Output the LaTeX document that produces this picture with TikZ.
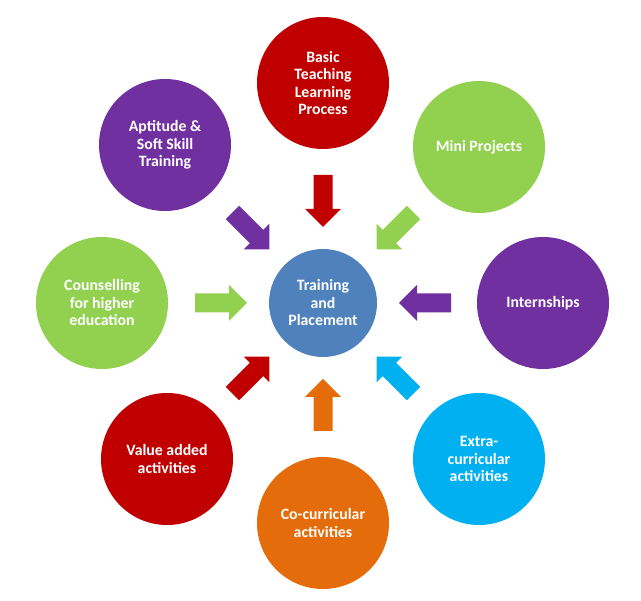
\documentclass[tikz,border=0pt]{standalone}
\usepackage{fontspec}
\setmainfont{Carlito}
\usetikzlibrary{calc}
\definecolor{cRed}{HTML}{C00000}
\definecolor{cPurple}{HTML}{7030A0}
\definecolor{cGreen}{HTML}{92D050}
\definecolor{cCyan}{HTML}{00B0F0}
\definecolor{cOrange}{HTML}{E46C0A}
\definecolor{cBlue}{HTML}{4F81BD}
\tikzset{
  bubble/.style={circle, minimum size=132pt, inner sep=0pt, text=white,
    align=center, font=\fontsize{15.8}{17.5}\selectfont\bfseries},
  hub/.style={bubble, minimum size=108pt, fill=cBlue}
}
% block arrow pointing from an outer bubble towards the hub
\newcommand\feedarrow[2]{%
  \path ($(hub)!128pt!(#1)$) coordinate (t)
        ($(hub)!76pt!(#1)$)  coordinate (h)
        ($(hub)!94pt!(#1)$)  coordinate (n);
  \fill[#2] ($(t)!9.5pt!90:(h)$) -- ($(n)!9.5pt!-90:(t)$) -- ($(n)!18pt!-90:(t)$)
     -- (h) -- ($(n)!18pt!90:(t)$) -- ($(n)!9.5pt!90:(t)$) -- ($(t)!9.5pt!-90:(h)$) -- cycle;
}
\begin{document}
\begin{tikzpicture}[x=1pt,y=-1pt]
  \useasboundingbox (0,0) rectangle (641,601);
  \fill[white] (0,0) rectangle (641,601);

  \node[hub] (hub) at (323,303) {Training\\and\\Placement};

  \node[bubble, fill=cRed]    (btl)  at (323,83)   {Basic\\Teaching\\Learning\\Process};
  \node[bubble, fill=cGreen]  (mini) at (479,147)  {Mini Projects};
  \node[bubble, fill=cPurple] (intern) at (543,303) {Internships};
  \node[bubble, fill=cCyan]   (extra) at (479,459) {Extra-\\curricular\\activities};
  \node[bubble, fill=cOrange] (cocur) at (323,523) {Co-curricular\\activities};
  \node[bubble, fill=cRed]    (value) at (167,459) {Value added\\activities};
  \node[bubble, fill=cGreen]  (couns) at (102,303) {Counselling\\for higher\\education};
  \node[bubble, fill=cPurple] (apt)  at (165,145)  {Aptitude \&\\Soft Skill\\Training};

  \feedarrow{btl}{cRed}
  \feedarrow{mini}{cGreen}
  \feedarrow{intern}{cPurple}
  \feedarrow{extra}{cCyan}
  \feedarrow{cocur}{cOrange}
  \feedarrow{value}{cRed}
  \feedarrow{couns}{cGreen}
  \feedarrow{apt}{cPurple}
\end{tikzpicture}
\end{document}
